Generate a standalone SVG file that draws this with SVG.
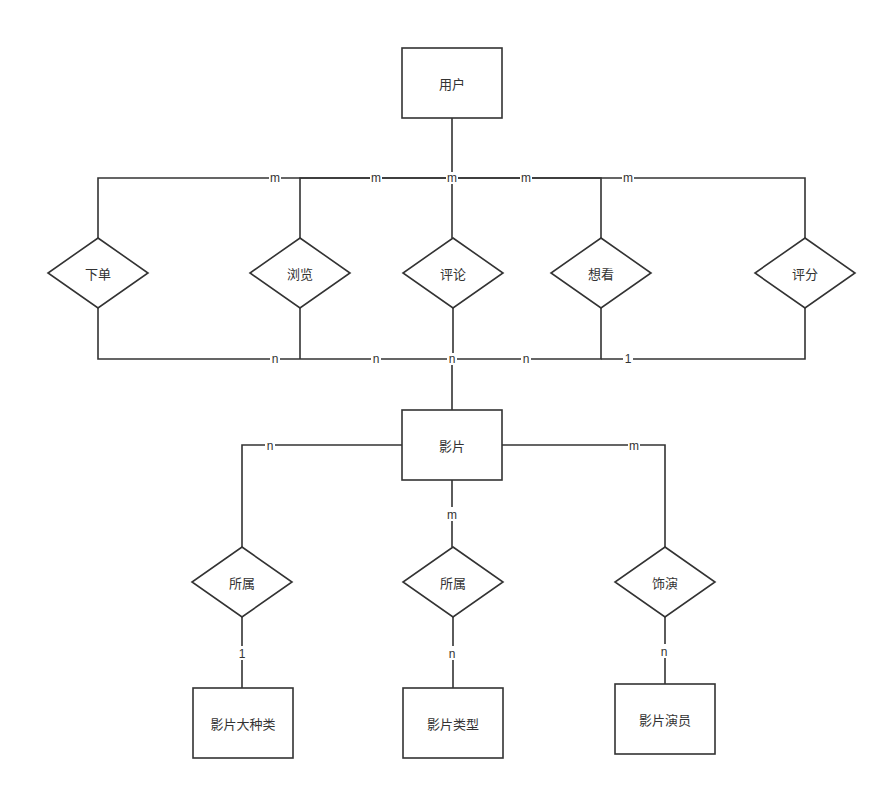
<svg xmlns="http://www.w3.org/2000/svg" width="887" height="790" viewBox="0 0 887 790">
<style>
.shape{fill:#fff;stroke:#333;stroke-width:1.6}
.edge{fill:none;stroke:#333;stroke-width:1.6}
.t{font-family:"Noto Sans CJK SC","Liberation Sans",sans-serif;font-size:13px;fill:#333;text-anchor:middle;dominant-baseline:central}
.lbl{font-family:"Liberation Sans","Noto Sans CJK SC",sans-serif;font-size:12px;fill:#333;text-anchor:middle;dominant-baseline:central}
.bg{fill:#fff}
</style>
<rect width="887" height="790" fill="#fff"/>
<g id="connectors">
<path class="edge" d="M452 118V178H98V238"/>
<path class="edge" d="M452 178H300V238"/>
<path class="edge" d="M452 178V238"/>
<path class="edge" d="M452 178H601V238"/>
<path class="edge" d="M452 178H805V238"/>
<path class="edge" d="M98 308V359H452V410"/>
<path class="edge" d="M300 308V359"/>
<path class="edge" d="M453 308V359"/>
<path class="edge" d="M601 308V359H452"/>
<path class="edge" d="M805 308V359H601"/>
<path class="edge" d="M402 445H242V547"/>
<path class="edge" d="M452 480V547"/>
<path class="edge" d="M502 445H665V547"/>
<path class="edge" d="M242 617V688"/>
<path class="edge" d="M453 617V688"/>
<path class="edge" d="M665 617V684"/>
<g id="labels">
<rect class="bg" x="269" y="172" width="12" height="12"/><text class="lbl" x="275" y="178">m</text>
<rect class="bg" x="370" y="172" width="12" height="12"/><text class="lbl" x="376" y="178">m</text>
<rect class="bg" x="446" y="172" width="12" height="12"/><text class="lbl" x="452" y="178">m</text>
<rect class="bg" x="520" y="172" width="12" height="12"/><text class="lbl" x="526" y="178">m</text>
<rect class="bg" x="622" y="172" width="12" height="12"/><text class="lbl" x="628" y="178">m</text>
<rect class="bg" x="270" y="353" width="10" height="12"/><text class="lbl" x="275" y="359">n</text>
<rect class="bg" x="371" y="353" width="10" height="12"/><text class="lbl" x="376" y="359">n</text>
<rect class="bg" x="447" y="353" width="10" height="12"/><text class="lbl" x="452" y="359">n</text>
<rect class="bg" x="521" y="353" width="10" height="12"/><text class="lbl" x="526" y="359">n</text>
<rect class="bg" x="623" y="353" width="10" height="12"/><text class="lbl" x="628" y="359">1</text>
<rect class="bg" x="265" y="440" width="10" height="12"/><text class="lbl" x="270" y="446">n</text>
<rect class="bg" x="628" y="440" width="12" height="12"/><text class="lbl" x="634" y="446">m</text>
<rect class="bg" x="446" y="507" width="12" height="14"/><text class="lbl" x="452" y="515">m</text>
<rect class="bg" x="237" y="646" width="10" height="14"/><text class="lbl" x="242" y="654">1</text>
<rect class="bg" x="447" y="646" width="10" height="14"/><text class="lbl" x="452" y="654">n</text>
<rect class="bg" x="659" y="644" width="10" height="14"/><text class="lbl" x="664" y="652">n</text>
</g>
</g>
<g id="user"><rect class="shape" x="402" y="48" width="100" height="70"/><text class="t" x="452" y="83">用户</text></g>
<g id="xiadan"><polygon class="shape" points="98,238 148,273 98,308 48,273"/><text class="t" x="98" y="273">下单</text></g>
<g id="liulan"><polygon class="shape" points="300,238 350,273 300,308 250,273"/><text class="t" x="300" y="273">浏览</text></g>
<g id="pinglun"><polygon class="shape" points="453,238 503,273 453,308 403,273"/><text class="t" x="453" y="273">评论</text></g>
<g id="xiangkan"><polygon class="shape" points="601,238 651,273 601,308 551,273"/><text class="t" x="601" y="273">想看</text></g>
<g id="pingfen"><polygon class="shape" points="805,238 855,273 805,308 755,273"/><text class="t" x="805" y="273">评分</text></g>
<g id="movie"><rect class="shape" x="402" y="410" width="100" height="70"/><text class="t" x="452" y="445">影片</text></g>
<g id="suoshu1"><polygon class="shape" points="242,547 292,582 242,617 192,582"/><text class="t" x="242" y="582">所属</text></g>
<g id="suoshu2"><polygon class="shape" points="453,547 503,582 453,617 403,582"/><text class="t" x="453" y="582">所属</text></g>
<g id="shiyan"><polygon class="shape" points="665,547 715,582 665,617 615,582"/><text class="t" x="665" y="582">饰演</text></g>
<g id="dazhonglei"><rect class="shape" x="193" y="688" width="100" height="70"/><text class="t" x="243" y="723">影片大种类</text></g>
<g id="leixing"><rect class="shape" x="403" y="688" width="100" height="70"/><text class="t" x="453" y="723">影片类型</text></g>
<g id="yanyuan"><rect class="shape" x="615" y="684" width="100" height="70"/><text class="t" x="665" y="719">影片演员</text></g>
</svg>
